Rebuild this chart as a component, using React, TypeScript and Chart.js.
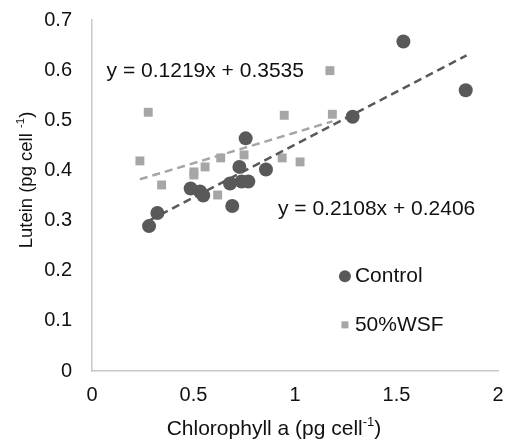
import React, { useEffect, useRef } from "react";
import { Chart, registerables } from "chart.js";
Chart.register(...registerables);

// Control series (Chlorophyll a vs Lutein)
const controlX = [1.534, 1.841, 1.284, 0.757, 0.726, 0.857, 0.68, 0.737, 0.77, 0.486, 0.532, 0.548, 0.691, 0.322, 0.281];
const controlY = [0.657, 0.56, 0.507, 0.464, 0.407, 0.402, 0.374, 0.378, 0.378, 0.364, 0.358, 0.35, 0.329, 0.315, 0.289];
// 50%WSF series
const wsfX = [1.172, 0.277, 0.947, 1.184, 0.236, 0.749, 0.634, 0.937, 1.025, 0.557, 0.502, 0.502, 0.343, 0.619];
const wsfY = [0.599, 0.516, 0.51, 0.512, 0.419, 0.431, 0.425, 0.425, 0.417, 0.407, 0.397, 0.391, 0.371, 0.351];

// Linear trendlines (slope, intercept, x-range)
const controlFit = [0.2108, 0.2406];
const controlFitRange = [0.281, 1.845];
const wsfFit = [0.1219, 0.3535];
const wsfFitRange = [0.236, 1.184];

const controlEq = "y = 0.2108x + 0.2406";
const wsfEq = "y = 0.1219x + 0.3535";
const seriesNames = ["Control", "50%WSF"];
const xTicks = [0, 0.5, 1, 1.5, 2];
const yTicks = [0, 0.1, 0.2, 0.3, 0.4, 0.5, 0.6, 0.7];

const DARK = "#595959";
const LIGHT = "#a6a6a6";
const FONT = "'Liberation Sans', Arial, sans-serif";

function pts(xs: number[], ys: number[]) {
  return xs.map((x, i) => ({ x, y: ys[i] }));
}
function fitLine(fit: number[], range: number[]) {
  return range.map((x) => ({ x, y: fit[0] * x + fit[1] }));
}

function drawSupText(ctx: CanvasRenderingContext2D, parts: [string, boolean][], size: number) {
  const widths = parts.map(([t, sup]) => {
    ctx.font = `${sup ? size * 0.62 : size}px ${FONT}`;
    return ctx.measureText(t).width;
  });
  const total = widths.reduce((a, b) => a + b, 0);
  let x = -total / 2;
  parts.forEach(([t, sup], i) => {
    ctx.font = `${sup ? size * 0.62 : size}px ${FONT}`;
    ctx.fillText(t, x, sup ? -size * 0.33 : 0);
    x += widths[i];
  });
}

const overlayPlugin = {
  id: "overlay",
  afterDraw(chart: any) {
    const ctx = chart.ctx as CanvasRenderingContext2D;
    const xs = chart.scales.x;
    const ys = chart.scales.y;
    ctx.save();
    ctx.fillStyle = "#111";
    ctx.textBaseline = "middle";
    // equations
    ctx.font = `21px ${FONT}`;
    ctx.textAlign = "left";
    ctx.fillText(wsfEq, xs.getPixelForValue(0.072), ys.getPixelForValue(0.597));
    ctx.fillText(controlEq, xs.getPixelForValue(0.916), ys.getPixelForValue(0.323));
    // legend
    const lx = xs.getPixelForValue(1.246);
    const ly1 = ys.getPixelForValue(0.189);
    const ly2 = ys.getPixelForValue(0.092);
    ctx.fillStyle = DARK;
    ctx.beginPath();
    ctx.arc(lx, ly1, 6, 0, Math.PI * 2);
    ctx.fill();
    ctx.fillStyle = LIGHT;
    ctx.fillRect(lx - 3.5, ly2 - 3.5, 7, 7);
    ctx.fillStyle = "#111";
    ctx.font = `21px ${FONT}`;
    ctx.fillText(seriesNames[0], lx + 10, ly1);
    ctx.fillText(seriesNames[1], lx + 10, ly2);
    // x title
    ctx.textAlign = "left";
    ctx.save();
    ctx.translate(274, 429);
    drawSupText(ctx, [["Chlorophyll a (pg cell", false], ["-1", true], [")", false]], 21);
    ctx.restore();
    // y title
    ctx.save();
    ctx.translate(27, 180);
    ctx.rotate(-Math.PI / 2);
    drawSupText(ctx, [["Lutein (pg cell ", false], ["-1", true], [")", false]], 18.5);
    ctx.restore();
    ctx.restore();
  },
};

export default function App() {
  const ref = useRef<HTMLCanvasElement>(null);
  useEffect(() => {
    if (!ref.current) return;
    const chart = new Chart(ref.current, {
      type: "scatter",
      data: {
        datasets: [
          {
            label: seriesNames[0] + " trend",
            data: fitLine(controlFit, controlFitRange),
            showLine: true,
            borderColor: DARK,
            borderWidth: 2.5,
            borderDash: [8, 5],
            pointRadius: 0,
            order: 1,
          },
          {
            label: seriesNames[1] + " trend",
            data: fitLine(wsfFit, wsfFitRange),
            showLine: true,
            borderColor: LIGHT,
            borderWidth: 2.5,
            borderDash: [8, 5],
            pointRadius: 0,
            order: 2,
          },
          {
            label: seriesNames[0],
            data: pts(controlX, controlY),
            backgroundColor: DARK,
            borderWidth: 0,
            pointRadius: 7,
            pointStyle: "circle",
            order: 3,
          },
          {
            label: seriesNames[1],
            data: pts(wsfX, wsfY),
            backgroundColor: LIGHT,
            borderWidth: 0,
            pointRadius: 6.3,
            pointStyle: "rect",
            order: 4,
          },
        ],
      },
      options: {
        animation: false,
        responsive: false,
        events: [],
        layout: { padding: { top: 20, right: 12, left: 0, bottom: 0 } },
        plugins: { legend: { display: false }, tooltip: { enabled: false } },
        scales: {
          x: {
            type: "linear",
            min: 0,
            max: 2,
            afterBuildTicks: (s: any) => {
              s.ticks = xTicks.map((v) => ({ value: v }));
            },
            afterFit: (s: any) => {
              s.height = 73;
              s.paddingRight = 0;
              s.paddingLeft = 0;
            },
            grid: { display: false, drawTicks: false },
            border: { display: true, color: "#c8c8c8", width: 1.5 },
            ticks: {
              color: "#111",
              font: { family: FONT, size: 20 },
              padding: 12,
              maxRotation: 0,
              callback: (v: any) => String(+v),
            },
          },
          y: {
            type: "linear",
            min: 0,
            max: 0.7,
            afterBuildTicks: (s: any) => {
              s.ticks = yTicks.map((v) => ({ value: v }));
            },
            afterFit: (s: any) => {
              s.width = 92;
              s.paddingTop = 0;
              s.paddingBottom = 0;
            },
            grid: { display: false, drawTicks: false },
            border: { display: true, color: "#c8c8c8", width: 1.5 },
            ticks: {
              color: "#111",
              font: { family: FONT, size: 20 },
              padding: 20,
              callback: (v: any) => String(+(+v).toFixed(1)),
            },
          },
        },
      },
      plugins: [overlayPlugin],
    });
    return () => chart.destroy();
  }, []);
  return (
    <div style={{ position: "fixed", left: 0, top: 0, width: 510, height: 444, background: "#fff" }}>
      <canvas ref={ref} width={510} height={444} />
    </div>
  );
}
